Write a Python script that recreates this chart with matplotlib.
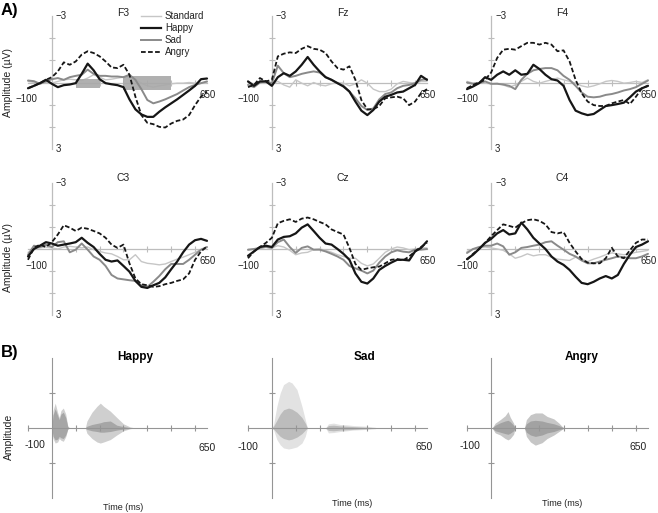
import matplotlib
matplotlib.use('Agg')
import matplotlib.pyplot as plt
from matplotlib.patches import Rectangle
from matplotlib.lines import Line2D

plt.rcParams['font.family'] = ['Liberation Sans', 'DejaVu Sans']

# ---------------- data ----------------
time_ms = list(range(-100, 651, 25))
conditions = ['Standard', 'Happy', 'Sad', 'Angry']
electrodes = ['F3', 'Fz', 'F4', 'C3', 'Cz', 'C4']

f3_standard = [-0.05, 0.00, 0.03, 0.00, 0.03, -0.05, -0.12, -0.15, -0.12, -0.09, -0.20, -0.35, -0.24, -0.12, -0.15, -0.20, -0.24, -0.27, -0.15, 0.03, 0.15, 0.21, 0.15, 0.11, 0.06, 0.03, 0.03, 0.00, 0.03, 0.03, 0.00]
f3_happy = [0.26, 0.15, 0.03, -0.12, 0.06, 0.21, 0.12, 0.09, 0.03, -0.39, -0.85, -0.55, -0.15, 0.03, 0.08, 0.12, 0.21, 0.76, 1.21, 1.44, 1.55, 1.55, 1.32, 1.12, 0.94, 0.76, 0.56, 0.36, 0.15, -0.15, -0.18]
f3_sad = [-0.09, -0.06, 0.06, -0.05, -0.15, -0.20, -0.12, -0.24, -0.30, -0.35, -0.58, -0.39, -0.30, -0.30, -0.27, -0.27, -0.24, -0.35, -0.12, 0.30, 0.79, 0.94, 0.86, 0.76, 0.64, 0.52, 0.36, 0.21, 0.11, 0.03, -0.05]
f3_angry = [0.26, 0.15, 0.03, -0.12, -0.24, -0.50, -0.91, -0.80, -0.95, -1.26, -1.41, -1.33, -1.18, -0.95, -0.68, -0.65, -0.80, -0.35, 0.64, 1.47, 1.82, 1.88, 2.00, 2.03, 1.85, 1.73, 1.67, 1.47, 1.02, 0.64, 0.41]

fz_standard = [0.00, 0.06, 0.03, 0.00, 0.06, -0.05, 0.11, 0.21, -0.12, 0.03, 0.15, 0.00, 0.11, 0.15, 0.06, 0.00, 0.03, 0.15, 0.06, -0.12, 0.03, 0.30, 0.41, 0.41, 0.30, 0.06, -0.05, 0.00, 0.03, -0.05, -0.05]
fz_happy = [-0.05, 0.15, -0.05, -0.05, 0.15, -0.24, -0.42, -0.30, -0.50, -0.80, -1.15, -0.80, -0.50, -0.24, -0.12, 0.03, 0.18, 0.41, 0.86, 1.27, 1.47, 1.24, 0.86, 0.64, 0.56, 0.45, 0.41, 0.26, 0.11, -0.30, -0.12]
fz_sad = [0.11, 0.21, 0.00, -0.05, 0.03, -0.76, -0.42, -0.24, -0.30, -0.39, -0.45, -0.50, -0.45, -0.24, -0.12, 0.03, 0.15, 0.41, 0.71, 1.06, 1.24, 1.17, 0.76, 0.52, 0.45, 0.26, 0.15, 0.11, 0.03, -0.12, -0.15]
fz_angry = [0.21, 0.11, -0.20, -0.05, -0.12, -1.18, -1.30, -1.36, -1.33, -1.52, -1.64, -1.52, -1.48, -1.33, -0.95, -0.65, -0.58, -0.73, -0.12, 0.79, 1.21, 1.21, 1.06, 0.71, 0.67, 0.64, 0.71, 1.02, 0.86, 0.48, 0.30]

f4_standard = [-0.05, 0.03, 0.00, 0.03, 0.06, 0.03, 0.11, 0.21, 0.11, -0.05, -0.20, -0.05, 0.03, -0.05, -0.12, -0.20, -0.12, -0.05, 0.03, 0.15, 0.21, 0.15, 0.06, -0.05, -0.09, -0.05, 0.03, 0.00, -0.05, 0.00, -0.12]
f4_happy = [0.30, 0.18, 0.03, -0.24, -0.12, -0.35, -0.50, -0.35, -0.55, -0.35, -0.39, -0.80, -0.61, -0.35, -0.15, -0.09, 0.15, 0.79, 1.27, 1.39, 1.47, 1.42, 1.24, 1.06, 1.02, 0.97, 0.91, 0.67, 0.41, 0.26, 0.15]
f4_sad = [0.00, 0.06, 0.03, -0.05, 0.06, 0.06, 0.09, 0.15, 0.30, -0.12, -0.39, -0.55, -0.61, -0.65, -0.65, -0.55, -0.30, -0.12, 0.15, 0.45, 0.64, 0.67, 0.64, 0.56, 0.52, 0.45, 0.36, 0.30, 0.21, 0.06, -0.09]
f4_angry = [0.26, 0.11, 0.00, -0.12, -0.45, -1.11, -1.48, -1.52, -1.48, -1.64, -1.79, -1.79, -1.71, -1.79, -1.71, -1.41, -1.45, -0.95, -0.12, 0.48, 0.86, 1.02, 1.06, 1.06, 0.94, 0.86, 0.79, 0.97, 0.64, 0.26, 0.15]

c3_standard = [0.15, 0.03, -0.05, -0.09, -0.05, 0.00, -0.09, -0.12, -0.09, -0.05, -0.09, 0.03, 0.11, 0.18, 0.22, 0.34, 0.49, 0.49, 0.26, 0.57, 0.65, 0.68, 0.72, 0.68, 0.57, 0.46, 0.37, 0.26, 0.15, 0.03, -0.09]
c3_happy = [0.34, 0.00, -0.15, -0.31, -0.25, -0.15, -0.20, -0.25, -0.31, -0.51, -0.28, -0.09, 0.22, 0.49, 0.57, 0.52, 0.77, 1.03, 1.45, 1.72, 1.77, 1.65, 1.54, 1.29, 0.92, 0.57, 0.15, -0.20, -0.40, -0.46, -0.37]
c3_sad = [0.26, -0.15, -0.09, -0.20, -0.09, -0.31, -0.35, 0.15, 0.03, -0.25, 0.03, 0.34, 0.49, 0.77, 1.18, 1.34, 1.38, 1.42, 1.45, 1.65, 1.72, 1.49, 1.23, 0.92, 0.68, 0.68, 0.68, 0.49, 0.26, 0.03, -0.09]
c3_angry = [0.49, -0.05, -0.20, -0.09, -0.31, -0.66, -1.08, -0.97, -0.82, -0.97, -0.92, -0.82, -0.71, -0.51, -0.20, -0.05, -0.20, 0.65, 1.34, 1.60, 1.65, 1.72, 1.69, 1.60, 1.54, 1.45, 1.38, 1.11, 0.49, 0.11, -0.12]

cz_standard = [0.06, 0.00, -0.05, -0.09, -0.05, -0.15, -0.09, 0.06, 0.26, 0.18, 0.15, 0.03, 0.00, 0.06, 0.15, 0.26, 0.34, 0.42, 0.42, 0.65, 0.77, 0.68, 0.42, 0.15, 0.00, -0.09, -0.05, 0.03, 0.00, -0.05, -0.05]
cz_happy = [0.31, 0.11, -0.09, -0.15, -0.09, -0.43, -0.55, -0.58, -0.71, -0.97, -1.12, -0.82, -0.51, -0.25, -0.20, 0.00, 0.22, 0.49, 1.11, 1.49, 1.57, 1.34, 0.95, 0.77, 0.62, 0.49, 0.49, 0.52, 0.11, -0.05, -0.35]
cz_sad = [0.03, 0.00, -0.05, -0.09, -0.05, -0.31, -0.43, -0.09, 0.18, -0.05, -0.12, 0.03, 0.03, 0.11, 0.22, 0.34, 0.49, 0.77, 0.88, 0.98, 1.11, 0.98, 0.62, 0.34, 0.15, 0.06, 0.12, 0.15, 0.03, 0.03, 0.00]
cz_angry = [0.42, 0.11, -0.09, -0.28, -0.51, -1.17, -1.28, -1.35, -1.23, -1.38, -1.43, -1.35, -1.23, -1.12, -0.89, -0.77, -0.66, -0.05, 0.68, 0.95, 0.88, 0.83, 0.80, 0.65, 0.49, 0.46, 0.52, 0.34, 0.11, -0.09, -0.28]

c4_standard = [0.11, 0.00, -0.05, -0.09, -0.05, 0.00, 0.06, 0.22, 0.42, 0.34, 0.22, 0.31, 0.26, 0.26, 0.37, 0.46, 0.49, 0.52, 0.37, 0.46, 0.57, 0.46, 0.37, 0.26, 0.18, 0.22, 0.26, 0.22, 0.15, 0.11, 0.06]
c4_happy = [0.46, 0.26, 0.00, -0.28, -0.46, -0.71, -0.86, -0.66, -0.71, -1.20, -0.89, -0.51, -0.25, 0.00, 0.34, 0.57, 0.72, 0.95, 1.26, 1.54, 1.60, 1.49, 1.34, 1.23, 1.34, 1.18, 0.68, 0.26, -0.09, -0.20, -0.35]
c4_sad = [0.18, 0.00, -0.09, -0.15, -0.15, -0.25, -0.12, 0.26, 0.15, -0.05, -0.09, -0.15, -0.20, -0.31, -0.35, -0.15, 0.03, 0.22, 0.34, 0.52, 0.65, 0.65, 0.57, 0.49, 0.42, 0.34, 0.37, 0.42, 0.42, 0.34, 0.22]
c4_angry = [0.49, 0.22, 0.00, -0.28, -0.58, -0.86, -1.12, -1.05, -0.97, -1.17, -1.31, -1.35, -1.28, -1.12, -0.77, -0.71, -0.77, -0.28, 0.11, 0.46, 0.62, 0.65, 0.65, 0.42, -0.05, 0.34, 0.42, 0.06, -0.28, -0.43, -0.43]

# analysis windows shaded in F3 (ms, µV)
f3_window_ms = [(100, 200), (300, 500)]
f3_window_uv = [(-0.17, 0.26), (-0.30, 0.36)]

# panel B: stimulus waveform envelopes (outer / inner), amplitude units
words = ['Happy', 'Sad', 'Angry']
happy_t = [0, 5, 14, 24, 31, 38, 48, 58, 67, 75, 140, 147, 168, 189, 203, 217, 245, 272, 300, 328, 350]
happy_up = [0, 0.50, 0.71, 0.45, 0.30, 0.50, 0.57, 0.40, 0.05, 0, 0, 0.20, 0.45, 0.62, 0.71, 0.62, 0.48, 0.30, 0.12, 0.03, 0]
happy_lo = [0, -0.30, -0.43, -0.40, -0.30, -0.35, -0.38, -0.25, -0.03, 0, 0, -0.15, -0.30, -0.40, -0.43, -0.40, -0.33, -0.20, -0.08, -0.02, 0]
happy_in_up = [0, 0.38, 0.55, 0.36, 0.24, 0.40, 0.45, 0.30, 0.03, 0, 0, 0.05, 0.10, 0.13, 0.15, 0.18, 0.20, 0.08, 0.04, 0.01, 0]
happy_in_lo = [0, -0.24, -0.34, -0.32, -0.24, -0.28, -0.30, -0.20, -0.02, 0, 0, -0.04, -0.08, -0.10, -0.12, -0.12, -0.10, -0.06, -0.03, -0.01, 0]

sad_t = [0, 7, 21, 35, 49, 70, 84, 105, 126, 140, 149, 225, 237, 258, 286, 314, 342, 370, 398, 433, 445]
sad_up = [0, 0.10, 0.62, 1.00, 1.24, 1.33, 1.29, 1.10, 0.62, 0.24, 0, 0, 0.12, 0.14, 0.10, 0.09, 0.07, 0.06, 0.05, 0.02, 0]
sad_lo = [0, -0.05, -0.33, -0.48, -0.57, -0.60, -0.58, -0.54, -0.43, -0.24, 0, 0, -0.14, -0.13, -0.10, -0.08, -0.06, -0.05, -0.04, -0.02, 0]
sad_in_up = [0, 0.05, 0.22, 0.40, 0.52, 0.57, 0.54, 0.45, 0.30, 0.14, 0, 0, 0.07, 0.08, 0.06, 0.05, 0.04, 0.03, 0.02, 0.01, 0]
sad_in_lo = [0, -0.03, -0.14, -0.24, -0.30, -0.34, -0.32, -0.26, -0.16, -0.06, 0, 0, -0.07, -0.08, -0.06, -0.05, -0.04, -0.03, -0.02, -0.01, 0]

angry_t = [0, 4, 17, 38, 58, 70, 79, 93, 100, 138, 146, 163, 183, 211, 232, 260, 281, 296, 305]
angry_up = [0, 0, 0.14, 0.24, 0.35, 0.47, 0.31, 0.14, 0, 0, 0.24, 0.38, 0.43, 0.43, 0.33, 0.26, 0.14, 0.03, 0]
angry_lo = [0, 0, -0.14, -0.20, -0.30, -0.34, -0.30, -0.18, 0, 0, -0.24, -0.40, -0.49, -0.42, -0.30, -0.20, -0.10, -0.03, 0]
angry_in_up = [0, 0, 0.08, 0.15, 0.20, 0.22, 0.18, 0.08, 0, 0, 0.12, 0.20, 0.22, 0.20, 0.16, 0.12, 0.07, 0.02, 0]
angry_in_lo = [0, 0, -0.08, -0.12, -0.16, -0.18, -0.15, -0.08, 0, 0, -0.12, -0.20, -0.24, -0.20, -0.14, -0.10, -0.05, -0.02, 0]

# ---------------- layout ----------------
W, H = 658, 513
fig = plt.figure(figsize=(W / 100, H / 100), dpi=100)
TXT = '#222222'


def add_ax(x0, x1, y0, y1):
    return fig.add_axes([x0 / W, 1 - y1 / H, (x1 - x0) / W, (y1 - y0) / H])


def ftext(x, y, s, **kw):
    kw.setdefault('color', TXT)
    fig.text(x / W, 1 - y / H, s, **kw)


erp = {
    'F3': [f3_standard, f3_happy, f3_sad, f3_angry],
    'Fz': [fz_standard, fz_happy, fz_sad, fz_angry],
    'F4': [f4_standard, f4_happy, f4_sad, f4_angry],
    'C3': [c3_standard, c3_happy, c3_sad, c3_angry],
    'Cz': [cz_standard, cz_happy, cz_sad, cz_angry],
    'C4': [c4_standard, c4_happy, c4_sad, c4_angry],
}
styles = {
    'Standard': dict(color='#c6c6c6', lw=1.0, zorder=2),
    'Happy': dict(color='#161616', lw=1.6, zorder=5),
    'Sad': dict(color='#8a8a8a', lw=1.4, zorder=4),
    'Angry': dict(color='#161616', lw=1.3, ls=(0, (2.6, 1.3)), zorder=6),
}

cols = [(28, 207), (248, 427), (467, 648)]
rows = [(16, 149), (183, 315)]
title_pos = [(123, 13), (343, 13), (562, 13), (123, 178), (343, 178), (562, 178)]
m100_dx = [-2, 0, 0, 8, 0, 0]
AXC = '#bdbdbd'

axes_a = []
for i, el in enumerate(electrodes):
    r, c = divmod(i, 3)
    ax = add_ax(cols[c][0], cols[c][1], rows[r][0], rows[r][1])
    ax.set_xlim(-100, 650)
    ax.set_ylim(3, -3)
    ax.axis('off')
    ax.plot([-100, 650], [0, 0], color=AXC, lw=0.9, zorder=1, clip_on=False)
    ax.plot([0, 0], [-3, 3], color=AXC, lw=0.9, zorder=1, clip_on=False)
    xt = [100, 200, 300, 400, 500, 600]
    ax.plot(xt, [0] * len(xt), ls='none', marker='|', ms=5, mew=0.8, color=AXC, clip_on=False)
    yt = [-2, -1, 1, 2]
    ax.plot([0] * len(yt), yt, ls='none', marker='_', ms=5, mew=0.8, color=AXC, clip_on=False)
    for cond, vals in zip(conditions, erp[el]):
        ax.plot(time_ms, vals, label=cond, clip_on=False, solid_capstyle='round', **styles[cond])
    if el == 'F3':
        for (t0, t1), (a0, a1) in zip(f3_window_ms, f3_window_uv):
            ax.add_patch(Rectangle((t0, a0), t1 - t0, a1 - a0, facecolor='#a8a8a8',
                                   edgecolor='none', alpha=0.9, zorder=3))
    ax.annotate('\u22123', xy=(0, -3), xytext=(4, 0), textcoords='offset pixels',
                ha='left', va='center', fontsize=7, color=TXT)
    ax.annotate('3', xy=(0, 3), xytext=(4, 0), textcoords='offset pixels',
                ha='left', va='center', fontsize=7, color=TXT)
    ax.annotate('\u2212100', xy=(-100, 0), xytext=(m100_dx[i], -17), textcoords='offset pixels',
                ha='center', va='center', fontsize=7, color=TXT)
    ax.annotate('650', xy=(650, 0), xytext=(1, -12), textcoords='offset pixels',
                ha='center', va='center', fontsize=7, color=TXT)
    ftext(*title_pos[i], el, ha='center', va='center', fontsize=7.5)
    axes_a.append(ax)

handles = [Line2D([], [], **{k: v for k, v in styles[c].items() if k != 'zorder'}) for c in conditions]
axes_a[0].legend(handles, conditions, loc='upper left', bbox_to_anchor=(141 / W, 1 - 11 / H),
                 bbox_transform=fig.transFigure, frameon=False, fontsize=7,
                 handlelength=2.1, handletextpad=0.35, labelspacing=0.22,
                 borderpad=0, borderaxespad=0, labelcolor=TXT)

ftext(8, 83, 'Amplitude (\u00b5V)', rotation=90, ha='center', va='center', fontsize=7.5)
ftext(8, 257, 'Amplitude (\u00b5V)', rotation=90, ha='center', va='center', fontsize=7.5)
ftext(1, 11, 'A)', ha='left', va='center', fontsize=12, fontweight='bold', color='black')

# ---------------- panel B ----------------
wave = {
    'Happy': (happy_t, happy_up, happy_lo, happy_in_up, happy_in_lo),
    'Sad': (sad_t, sad_up, sad_lo, sad_in_up, sad_in_lo),
    'Angry': (angry_t, angry_up, angry_lo, angry_in_up, angry_in_lo),
}
outer_col = {'Happy': '#cfcfcf', 'Sad': '#e2e2e2', 'Angry': '#c6c6c6'}
inner_col = {'Happy': '#a6a6a6', 'Sad': '#bcbcbc', 'Angry': '#a2a2a2'}
b_title = [(135, 357), (364, 357), (582, 357)]
b_time = [(123, 508), (352, 503), (562, 503)]
b_m100 = [(7, -17), (0, -19), (3, -18)]
b_650 = [(0, -20), (-3, -19), (-10, -19)]
BAX = '#959595'
for j, w in enumerate(words):
    c = j
    ax = add_ax(cols[c][0], cols[c][1], 358, 498)
    ax.set_xlim(-100, 650)
    ax.set_ylim(-2, 2)
    ax.axis('off')
    t, up, lo, iup, ilo = wave[w]
    ax.fill_between(t, lo, up, color=outer_col[w], lw=0, zorder=2)
    ax.fill_between(t, ilo, iup, color=inner_col[w], lw=0, zorder=3)
    ax.plot([-100, 650], [0, 0], color=BAX, lw=0.8, zorder=4, clip_on=False)
    ax.plot([0, 0], [-2, 2], color=BAX, lw=0.8, zorder=4, clip_on=False)
    xt = [-100, 100, 200, 300, 400, 500, 600]
    ax.plot(xt, [0] * len(xt), ls='none', marker='|', ms=5, mew=0.8, color=BAX, zorder=4, clip_on=False)
    ax.plot([0, 0], [-1, 1], ls='none', marker='_', ms=5, mew=0.8, color=BAX, zorder=4, clip_on=False)
    ax.annotate('-100', xy=(-100, 0), xytext=b_m100[j], textcoords='offset pixels',
                ha='center', va='center', fontsize=7.5, color=TXT)
    ax.annotate('650', xy=(650, 0), xytext=b_650[j], textcoords='offset pixels',
                ha='center', va='center', fontsize=7.5, color=TXT)
    ftext(*b_title[j], w, ha='center', va='center', fontsize=8.5, fontweight='bold', color='black')
    ftext(*b_time[j], 'Time (ms)', ha='center', va='center', fontsize=6.5)

ftext(9, 437, 'Amplitude', rotation=90, ha='center', va='center', fontsize=7.5)
ftext(1, 353, 'B)', ha='left', va='center', fontsize=12, fontweight='bold', color='black')

fig.savefig('out.png', dpi=100)
